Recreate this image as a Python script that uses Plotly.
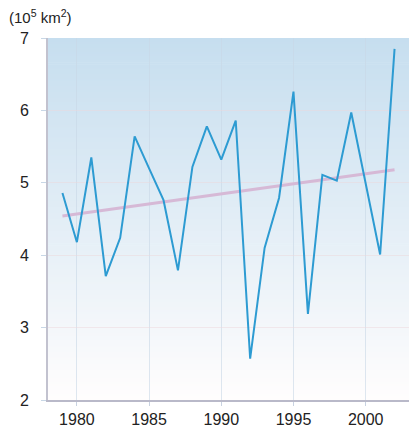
import plotly.graph_objects as go

years = list(range(1979, 2003))
area = [4.86, 4.18, 5.35, 3.71, 4.24, 5.64, 5.20, 4.76, 3.79, 5.22, 5.78, 5.32,
        5.86, 2.57, 4.10, 4.79, 6.26, 3.19, 5.11, 5.03, 5.97, 5.00, 4.01, 6.85]
trend_years = [1979, 2002]
trend_vals = [4.54, 5.18]
x_ticks = [1980, 1985, 1990, 1995, 2000]
y_ticks = [2, 3, 4, 5, 6, 7]

fig = go.Figure()

# vertical gradient background (light blue top -> white bottom)
n = 180
top = (198, 222, 239)
bot = (255, 253, 253)
shapes = []
for i in range(n):
    t = i / (n - 1)
    c = tuple(int(round(top[k] + (bot[k] - top[k]) * t)) for k in range(3))
    shapes.append(dict(type="rect", xref="x domain", yref="y domain",
                       x0=0, x1=1, y0=1 - (i + 1) / n - 0.002, y1=1 - i / n,
                       fillcolor="rgb(%d,%d,%d)" % c, line=dict(width=0),
                       layer="below"))

fig.add_trace(go.Scatter(x=trend_years, y=trend_vals, mode="lines",
                         line=dict(color="#d6b9d6", width=3), hoverinfo="skip"))
fig.add_trace(go.Scatter(x=years, y=area, mode="lines",
                         line=dict(color="#2d9bd2", width=2)))

fig.update_layout(
    width=409, height=436,
    margin=dict(l=48, r=0, t=38, b=36),
    paper_bgcolor="white",
    plot_bgcolor="white",
    showlegend=False,
    shapes=shapes,
    font=dict(family="Liberation Sans, Arial, sans-serif", size=16, color="#222"),
    annotations=[dict(text="(10<sup>5</sup> km<sup>2</sup>)", xref="paper", yref="paper",
                      x=-48 / 361, y=1.0, yshift=10, xshift=7, xanchor="left", yanchor="bottom",
                      showarrow=False, font=dict(size=15, color="#222"))],
)
fig.update_xaxes(range=[1978, 2003], tickvals=x_ticks, showgrid=True,
                 gridcolor="rgba(200,215,230,0.6)", gridwidth=1,
                 ticks="outside", ticklen=4, tickcolor="rgba(200,210,225,1)",
                 showline=True, linecolor="#b9b9c9", linewidth=2, zeroline=False)
fig.update_yaxes(range=[2, 7], tickvals=y_ticks, showgrid=True,
                 gridcolor="rgba(235,215,220,0.5)", gridwidth=1,
                 ticks="outside", ticklen=5, tickcolor="rgba(200,215,230,1)",
                 showline=True, linecolor="#c2c2cf", linewidth=2, zeroline=False,
                 ticklabelstandoff=9)

fig.write_html("out.html")
